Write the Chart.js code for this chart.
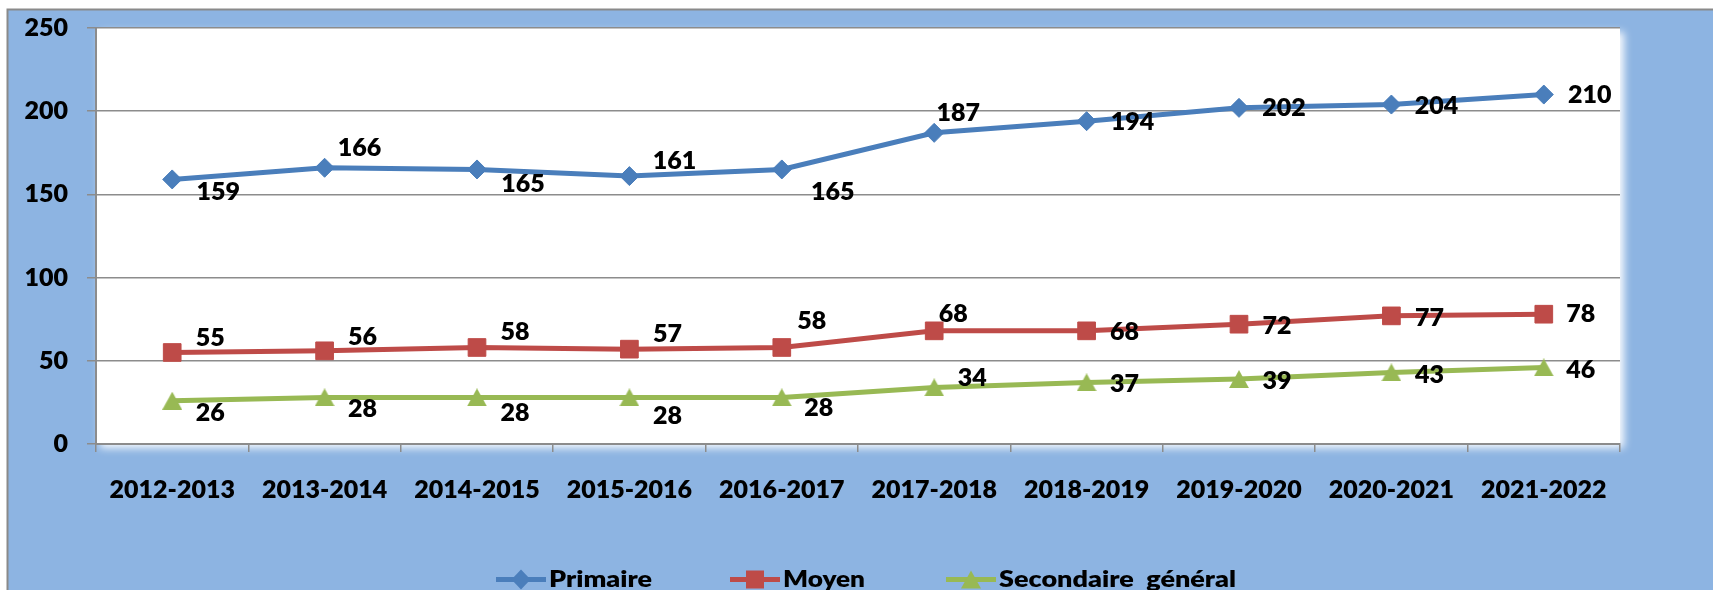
<!DOCTYPE html>
<html>
<head>
<meta charset="utf-8">
<script src="https://cdn.jsdelivr.net/npm/chart.js@4.4.1/dist/chart.umd.min.js"></script>
<style>
html, body { margin: 0; padding: 0; background: #fff; }
canvas { display: block; }
</style>
</head>
<body>
<canvas id="chart" width="1713" height="590"></canvas>
<script>
// data
var categories = ['2012-2013', '2013-2014', '2014-2015', '2015-2016', '2016-2017',
                  '2017-2018', '2018-2019', '2019-2020', '2020-2021', '2021-2022'];
var primaire = [159, 166, 165, 161, 165, 187, 194, 202, 204, 210];
var moyen = [55, 56, 58, 57, 58, 68, 68, 72, 77, 78];
var secondaire = [26, 28, 28, 28, 28, 34, 37, 39, 43, 46];
var seriesNames = ['Primaire', 'Moyen', 'Secondaire  général'];
var yTicks = [0, 50, 100, 150, 200, 250];

// where each value label sits, relative to its point (dx, dy of text centre)
var shiftPrimaire = [[46,13],[35,-20],[46,14],[45,-15],[51,22],[24,-20],[46,1],[45,0],[45,1],[46,0]];
var shiftMoyen = [[38,-15],[38,-14],[38,-16],[38,-15],[30,-27],[19,-17],[38,1],[38,2],[38,2],[37,0]];
var shiftSecondaire = [[38,12],[38,12],[38,16],[38,19],[37,11],[38,-9],[38,2],[38,2],[38,2],[37,2]];
var shifts = [shiftPrimaire, shiftMoyen, shiftSecondaire];

var blue = '#4a7ebb', red = '#be4b48', green = '#98b954';
var gridGray = '#8c8c8c';
var fontFamily = 'Lato, "Liberation Sans", sans-serif';

Chart.defaults.font.family = fontFamily;

// triangle marker, centred on its box like the office one
function triangleImg(color, w, h) {
    var c = document.createElement('canvas');
    c.width = w; c.height = h;
    var t = c.getContext('2d');
    t.fillStyle = color;
    t.beginPath();
    t.moveTo(0, h); t.lineTo(w / 2, 0); t.lineTo(w, h);
    t.closePath();
    t.fill();
    return c;
}
var triMark = triangleImg(green, 20, 18);

var background = {
    id: 'background',
    beforeDraw: function(chart) {
        var ctx = chart.ctx, w = chart.width, h = chart.height, a = chart.chartArea;
        ctx.save();
        ctx.fillStyle = '#fff';
        ctx.fillRect(0, 0, w, h);
        ctx.fillStyle = '#8db4e2';
        ctx.fillRect(8, 10, w, h);
        ctx.strokeStyle = '#8a8a8a';
        ctx.lineWidth = 2;
        ctx.strokeRect(7.5, 9.5, w + 20, h + 20);
        ctx.shadowColor = 'rgba(255,255,255,0.95)';
        ctx.shadowBlur = 8;
        ctx.shadowOffsetX = 4;
        ctx.shadowOffsetY = 4;
        ctx.fillStyle = '#fff';
        ctx.fillRect(a.left, a.top, a.right - a.left, a.bottom - a.top);
        ctx.restore();
    }
};

var valueLabels = {
    id: 'valueLabels',
    afterDatasetsDraw: function(chart) {
        var ctx = chart.ctx;
        ctx.save();
        ctx.font = '800 25px ' + fontFamily;
        ctx.fillStyle = '#000';
        ctx.textAlign = 'center';
        ctx.textBaseline = 'middle';
        chart.data.datasets.forEach(function(ds, di) {
            var meta = chart.getDatasetMeta(di);
            meta.data.forEach(function(pt, i) {
                var s = shifts[di][i];
                ctx.fillText(ds.data[i], pt.x + s[0], pt.y + s[1]);
            });
        });
        ctx.restore();
    }
};

// legend drawn by hand: a piece of line with its marker, then the name
var legendStart = [496, 730, 946];
var legendTextWidth = [103, 82, 237];
var lineLegend = {
    id: 'lineLegend',
    afterDraw: function(chart) {
        var ctx = chart.ctx;
        var y = 579.5;
        ctx.save();
        chart.data.datasets.forEach(function(ds, di) {
            var x0 = legendStart[di];
            ctx.strokeStyle = ds.borderColor;
            ctx.lineWidth = 5;
            ctx.beginPath();
            ctx.moveTo(x0, y); ctx.lineTo(x0 + 50, y);
            ctx.stroke();
            var cx = x0 + 25;
            ctx.fillStyle = ds.borderColor;
            ctx.beginPath();
            if (di === 0) {
                ctx.moveTo(cx - 9.5, y); ctx.lineTo(cx, y - 10); ctx.lineTo(cx + 9.5, y); ctx.lineTo(cx, y + 10);
            } else if (di === 1) {
                ctx.rect(cx - 9, y - 9, 18, 18);
            } else {
                ctx.moveTo(cx - 10, y + 9); ctx.lineTo(cx, y - 9); ctx.lineTo(cx + 10, y + 9);
            }
            ctx.closePath();
            ctx.fill();

            ctx.font = '800 23px ' + fontFamily;
            ctx.fillStyle = '#000';
            ctx.textBaseline = 'alphabetic';
            var tw = ctx.measureText(ds.label).width;
            ctx.save();
            ctx.translate(x0 + 53, 587);
            ctx.scale(legendTextWidth[di] / tw, 1);
            ctx.fillText(ds.label, 0, 0);
            ctx.restore();
        });
        ctx.restore();
    }
};

var ctx = document.getElementById('chart').getContext('2d');
var chart = new Chart(ctx, {
    type: 'line',
    data: {
        labels: categories,
        datasets: [{
            label: seriesNames[0],
            data: primaire,
            borderColor: blue,
            backgroundColor: blue,
            borderWidth: 5,
            pointStyle: 'rectRot',
            pointRadius: 9.5,
            pointBorderWidth: 1,
            pointBackgroundColor: blue,
            pointBorderColor: blue,
            tension: 0
        }, {
            label: seriesNames[1],
            data: moyen,
            borderColor: red,
            backgroundColor: red,
            borderWidth: 5,
            pointStyle: 'rect',
            pointRadius: 12.5,
            pointBorderWidth: 1,
            pointBackgroundColor: red,
            pointBorderColor: red,
            tension: 0
        }, {
            label: seriesNames[2],
            data: secondaire,
            borderColor: green,
            backgroundColor: green,
            borderWidth: 5,
            pointStyle: triMark,
            pointRadius: 10,
            tension: 0
        }]
    },
    options: {
        responsive: false,
        animation: false,
        layout: { autoPadding: false, padding: { top: 28, right: 93, bottom: 0, left: 0 } },
        plugins: {
            legend: { display: false },
            tooltip: { enabled: false }
        },
        scales: {
            x: {
                offset: true,
                ticks: { color: '#000', font: { size: 25, weight: 800 }, padding: 23, maxRotation: 0, autoSkip: false },
                grid: { offset: true, drawOnChartArea: false, tickLength: 8, color: gridGray, lineWidth: 1.5 },
                border: { color: gridGray, width: 2 },
                afterFit: function(s) { s.height = 146; }
            },
            y: {
                min: 0,
                max: 250,
                afterBuildTicks: function(s) { s.ticks = yTicks.map(function(v) { return { value: v }; }); },
                ticks: { color: '#000', font: { size: 25, weight: 800 }, padding: 19 },
                grid: { color: gridGray, lineWidth: 1.5, tickLength: 9 },
                border: { color: gridGray, width: 2 },
                afterFit: function(s) {
                    s.width = 96;
                    s.paddingTop = 0;
                    s.paddingBottom = 0;
                }
            }
        }
    },
    plugins: [background, valueLabels, lineLegend]
});
</script>
</body>
</html>
